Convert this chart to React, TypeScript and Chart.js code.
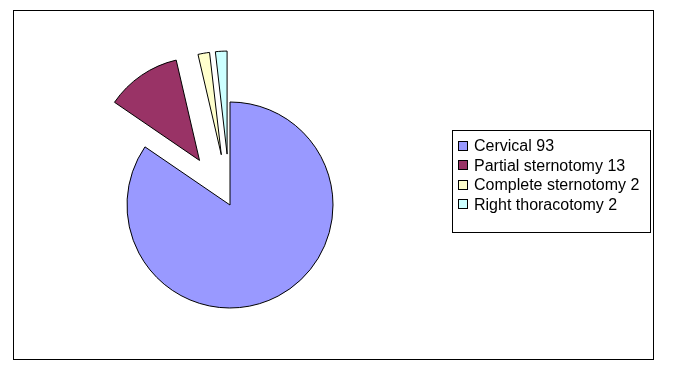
import React, { useEffect, useRef } from "react";
import { Chart, registerables } from "chart.js";

Chart.register(...registerables);

const categories = ["Cervical", "Partial sternotomy", "Complete sternotomy", "Right thoracotomy"];
const values = [93, 13, 2, 2];
const colors = ["#9999FF", "#993366", "#FFFFCC", "#CCFFFF"];
// explode distance (px) of each slice along its bisector
const explode = [0, 54, 51, 51];

const FONT = "16px 'Liberation Sans', Arial, sans-serif";

// Draw each arc element rigidly translated along its bisector (Excel-style explode)
const explodePlugin = {
  id: "rigidExplode",
  beforeDatasetDraw(chart: any, args: any) {
    const ctx = chart.ctx;
    const meta = args.meta;
    meta.data.forEach((el: any, i: number) => {
      const { startAngle, endAngle } = el.getProps(["startAngle", "endAngle"], true);
      const mid = (startAngle + endAngle) / 2;
      const d = explode[i] || 0;
      ctx.save();
      ctx.translate(Math.cos(mid) * d, Math.sin(mid) * d);
      el.draw(ctx, chart.chartArea);
      ctx.restore();
    });
    return false;
  },
};

const framePlugin = {
  id: "frameLegend",
  beforeDraw(chart: any) {
    const ctx = chart.ctx;
    ctx.save();
    ctx.fillStyle = "#ffffff";
    ctx.fillRect(0, 0, chart.width, chart.height);
    ctx.restore();
  },
  afterDraw(chart: any) {
    const ctx = chart.ctx;
    ctx.save();
    ctx.strokeStyle = "#000000";
    ctx.lineWidth = 1;
    ctx.strokeRect(13.5, 10.5, 640, 349);
    // legend box
    ctx.strokeRect(452.5, 130.5, 198, 102);
    ctx.font = FONT;
    ctx.textBaseline = "middle";
    ctx.textAlign = "left";
    categories.forEach((c, i) => {
      const cy = 146 + i * 19.4;
      const top = Math.round(cy - 5);
      ctx.fillStyle = colors[i];
      ctx.fillRect(458, top, 10, 10);
      ctx.strokeStyle = "#000000";
      ctx.strokeRect(458.5, top + 0.5, 9, 9);
      ctx.fillStyle = "#000000";
      ctx.fillText(`${c} ${values[i]}`, 474, cy + 1);
    });
    ctx.restore();
  },
};

export default function App() {
  const ref = useRef<HTMLCanvasElement | null>(null);
  useEffect(() => {
    if (!ref.current) return;
    const chart = new Chart(ref.current, {
      type: "pie",
      data: {
        labels: categories,
        datasets: [
          {
            data: values,
            backgroundColor: colors,
            borderColor: "#000000",
            borderWidth: 1,
            borderJoinStyle: "miter",
          } as any,
        ],
      },
      options: {
        responsive: false,
        animation: false,
        events: [],
        radius: 103,
        layout: { padding: { left: 100, right: 315, top: 60, bottom: 23 } },
        plugins: {
          legend: { display: false },
          tooltip: { enabled: false },
        },
      } as any,
      plugins: [framePlugin, explodePlugin],
    });
    return () => chart.destroy();
  }, []);
  return (
    <div style={{ position: "fixed", left: 0, top: 0, width: 675, height: 373, background: "#fff" }}>
      <canvas ref={ref} width={675} height={373} style={{ display: "block" }} />
    </div>
  );
}
